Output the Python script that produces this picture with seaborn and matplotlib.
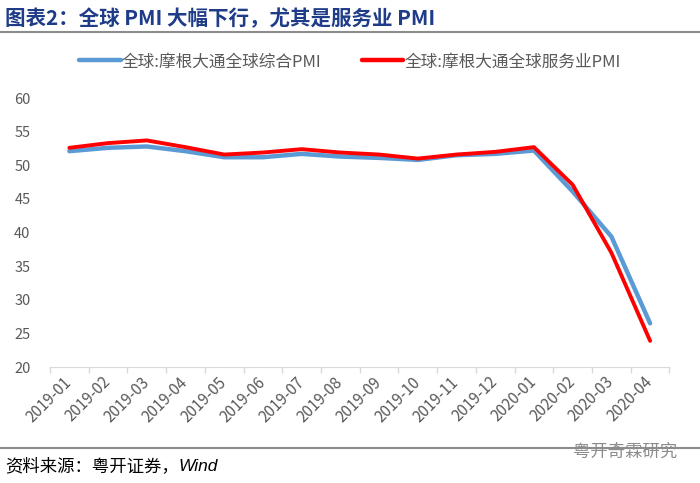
import pandas as pd
import matplotlib.pyplot as plt
import seaborn as sns
from matplotlib.lines import Line2D
from matplotlib.ticker import FixedLocator

# 数据
months = ["2019-01", "2019-02", "2019-03", "2019-04", "2019-05", "2019-06",
          "2019-07", "2019-08", "2019-09", "2019-10", "2019-11", "2019-12",
          "2020-01", "2020-02", "2020-03", "2020-04"]
composite = [52.1, 52.6, 52.8, 52.1, 51.2, 51.2, 51.7, 51.3, 51.1, 50.8,
             51.5, 51.7, 52.2, 46.1, 39.4, 26.5]
services = [52.6, 53.3, 53.7, 52.7, 51.6, 51.9, 52.4, 51.9, 51.6, 51.0,
            51.6, 52.0, 52.7, 47.1, 37.0, 23.9]
label_comp = "全球:摩根大通全球综合PMI"
label_serv = "全球:摩根大通全球服务业PMI"

sns.set_style("white")
plt.rcParams["font.family"] = ["Noto Sans CJK SC", "DejaVu Sans"]

df = pd.DataFrame({"month": months, label_comp: composite, label_serv: services})
long = df.melt(id_vars="month", var_name="series", value_name="pmi")

fig = plt.figure(figsize=(7, 4.83), dpi=100)
ax = fig.add_axes([0.0714, 0.240, 0.885, 0.557])

palette = {label_comp: "#5B9BD5", label_serv: "#FF0000"}
sns.lineplot(data=long, x="month", y="pmi", hue="series", palette=palette,
             ax=ax, legend=False, sort=False)
ax.lines[0].set_linewidth(3.2)
ax.lines[1].set_linewidth(2.8)

ax.set_ylim(20, 60)
ax.set_yticks(range(20, 61, 5))
ax.set_xlim(-0.5, len(months) - 0.5)
ax.xaxis.set_minor_locator(FixedLocator([i - 0.5 for i in range(len(months) + 1)]))
ax.tick_params(axis="x", which="major", length=0, pad=9, labelsize=11,
               labelcolor="#595959", rotation=45)
ax.tick_params(axis="x", which="minor", length=4, color="#D9D9D9", width=1,
               bottom=True)
ax.tick_params(axis="y", length=0, labelsize=10.5, labelcolor="#595959", pad=14)
for lab in ax.get_xticklabels():
    lab.set_ha("right")
    lab.set_va("center")
    lab.set_rotation_mode("anchor")
ax.set_xlabel("")
ax.set_ylabel("")
for s in ["top", "right", "left"]:
    ax.spines[s].set_visible(False)
ax.spines["bottom"].set_color("#D9D9D9")

handles = [Line2D([], [], color="#5B9BD5", lw=3.2),
           Line2D([], [], color="#FF0000", lw=3.2)]
fig.legend(handles, [label_comp, label_serv], loc="center",
           bbox_to_anchor=(0.50, 0.872), ncol=2, frameon=False, fontsize=12,
           labelcolor="#595959", handlelength=2.5, handletextpad=0.05,
           columnspacing=2.4)

# 标题与分隔线
fig.text(0.007, 0.961, "图表2：全球 PMI 大幅下行，尤其是服务业 PMI",
         fontsize=14.8, fontweight="bold", color="#1F3C88", va="center")
fig.add_artist(Line2D([0, 1], [0.934, 0.934], color="#8C8C8C", lw=1.5))
fig.add_artist(Line2D([0, 1], [0.073, 0.073], color="#8C8C8C", lw=1.5))

src = fig.text(0.007, 0.034, "资料来源：粤开证券，", fontsize=12.5,
               color="black", va="center")
ax.annotate("Wind", xy=(1, 0.5), xycoords=src, va="center", ha="left",
            fontsize=12.5, style="italic", family="Liberation Sans",
            color="black")
fig.text(0.968, 0.064, "粤开奇霖研究", fontsize=12.5, color="#8C8C8C",
         va="center", ha="right")

fig.savefig("out.png", dpi=100)
